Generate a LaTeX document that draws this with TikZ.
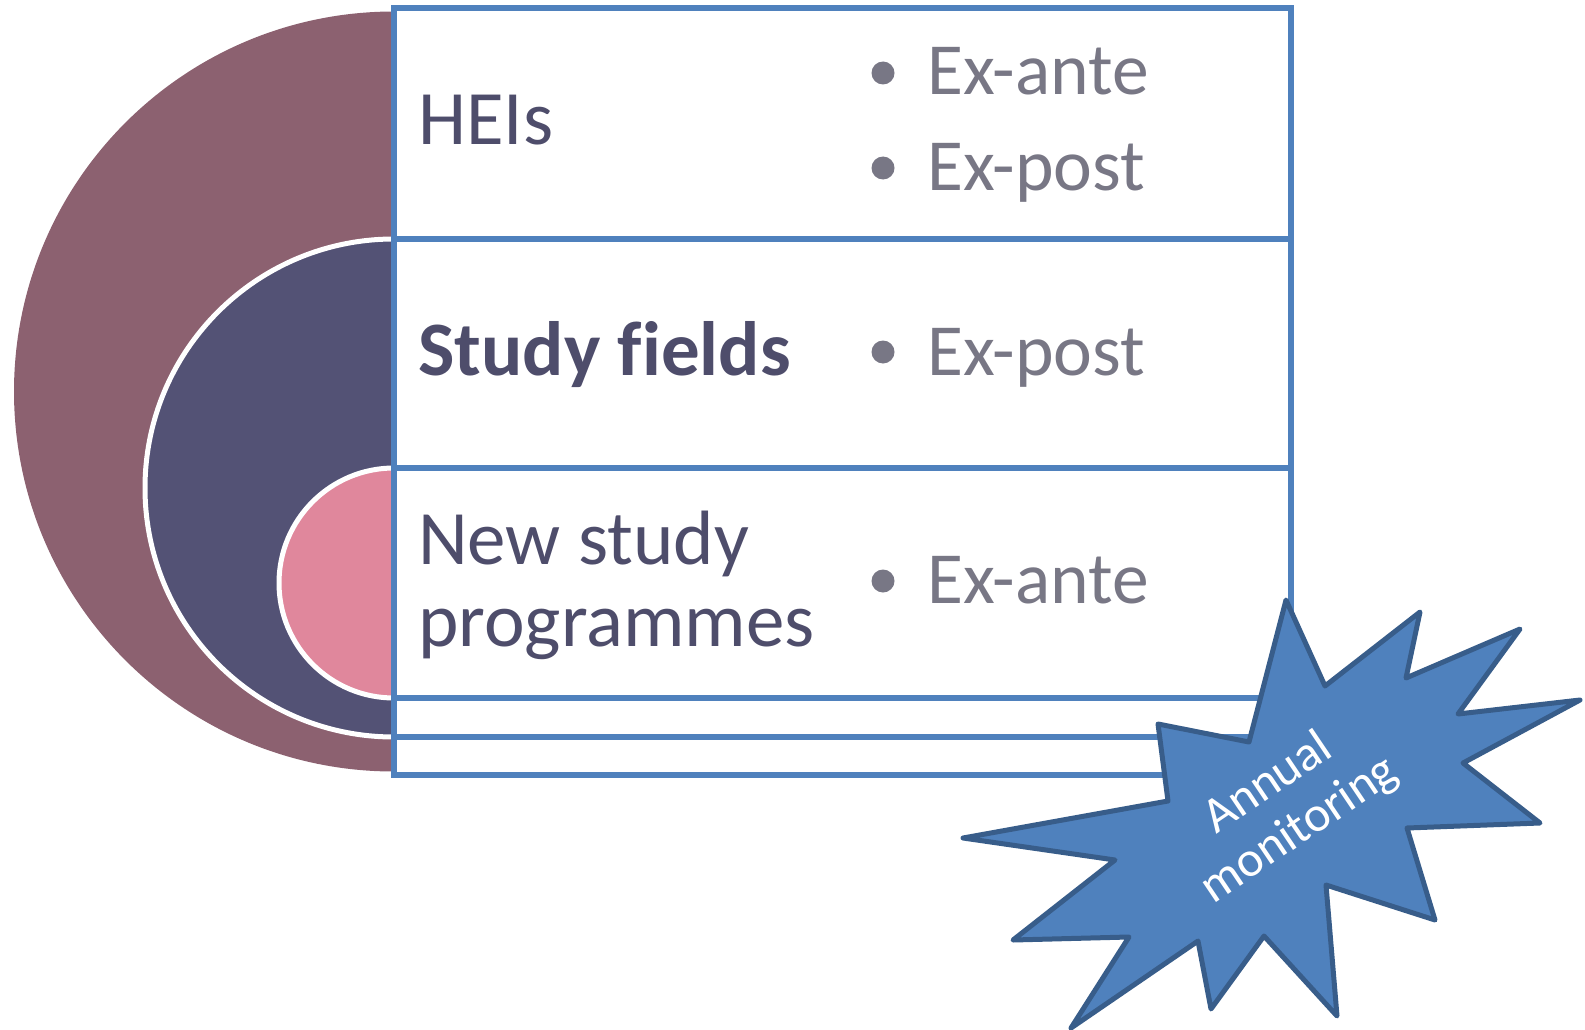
\documentclass[tikz,border=0pt]{standalone}
\usepackage{fontspec}
\setmainfont{Carlito}[Ligatures=NoCommon]
\definecolor{mauve}{HTML}{8C6170}
\definecolor{navyc}{HTML}{535275}
\definecolor{pinkc}{HTML}{E0879C}
\definecolor{boxblue}{HTML}{4F81BD}
\definecolor{starline}{HTML}{385D8A}
\definecolor{labelc}{HTML}{4E4D6B}
\definecolor{bulc}{HTML}{787785}
\begin{document}
\begin{tikzpicture}[x=1pt,y=-1pt,
  rowbox/.style={draw=boxblue,line width=5.5pt},
  ringline/.style={draw=white,line width=5pt},
  lbl/.style={anchor=base west,inner sep=0pt,text=labelc,font=\fontsize{77}{82}\selectfont},
  bul/.style={anchor=base west,inner sep=0pt,text=bulc,font=\fontsize{73.5}{80}\selectfont},
  dotc/.style={circle,fill=bulc,draw=none,minimum size=23pt,inner sep=0pt},
  starshape/.style={fill=boxblue,draw=starline,line width=5pt,line join=round},
  startext/.style={text=white,align=center,inner sep=0pt,rotate=34,font=\fontsize{50}{56}\selectfont}]
\useasboundingbox (0,0) rectangle (1585,1030);
% nested half circles
\begin{scope}
\clip (0,0) rectangle (394,1030);
\fill[mauve] (394,391.5) circle[radius=380];
\fill[navyc] (394,488) circle[radius=249];
\draw[ringline] (394,488) circle[radius=249];
\fill[pinkc] (394,583) circle[radius=115];
\draw[ringline] (394,583) circle[radius=115];
\end{scope}
% rows
\draw[rowbox] (394,8) rectangle (1291,239);
\draw[rowbox] (394,239) rectangle (1291,468);
\draw[rowbox] (394,468) rectangle (1291,698);
\draw[rowbox] (394,698) rectangle (1291,737);
\draw[rowbox] (394,737) rectangle (1291,775);
% labels
\node[lbl] (hei) at (418,145) {HEIs};
\node[lbl] (sf) at (418,375) {\bfseries Study fields};
\node[lbl] (nsa) at (418,564) {New study};
\node[lbl] (nsb) at (418,646) {programmes};
% bullets
\node[dotc] (d1) at (883,73) {};
\node[bul] (b1) at (927,95) {Ex-ante};
\node[dotc] (d2) at (883,168) {};
\node[bul] (b2) at (927,190) {Ex-post};
\node[dotc] (d3) at (883,352) {};
\node[bul] (b3) at (927,375) {Ex-post};
\node[dotc] (d4) at (883,581) {};
\node[bul] (b4) at (927,603) {Ex-ante};
% star
\draw[starshape] (1286,600) -- (1325,686) -- (1420,612) -- (1406,678) -- (1520,629)
  -- (1458,714) -- (1580,700) -- (1463,763) -- (1540,823) -- (1407,828)
  -- (1435,920) -- (1326,885) -- (1337,1016) -- (1264,936) -- (1211,1009)
  -- (1198,941) -- (1071,1028) -- (1129,937) -- (1013,940) -- (1115,860)
  -- (963,838) -- (1168,801) -- (1158,724) -- (1249,742) -- cycle;
\node[startext] (ann) at (1284,807) {Annual\\monitoring};
\end{tikzpicture}
\end{document}
